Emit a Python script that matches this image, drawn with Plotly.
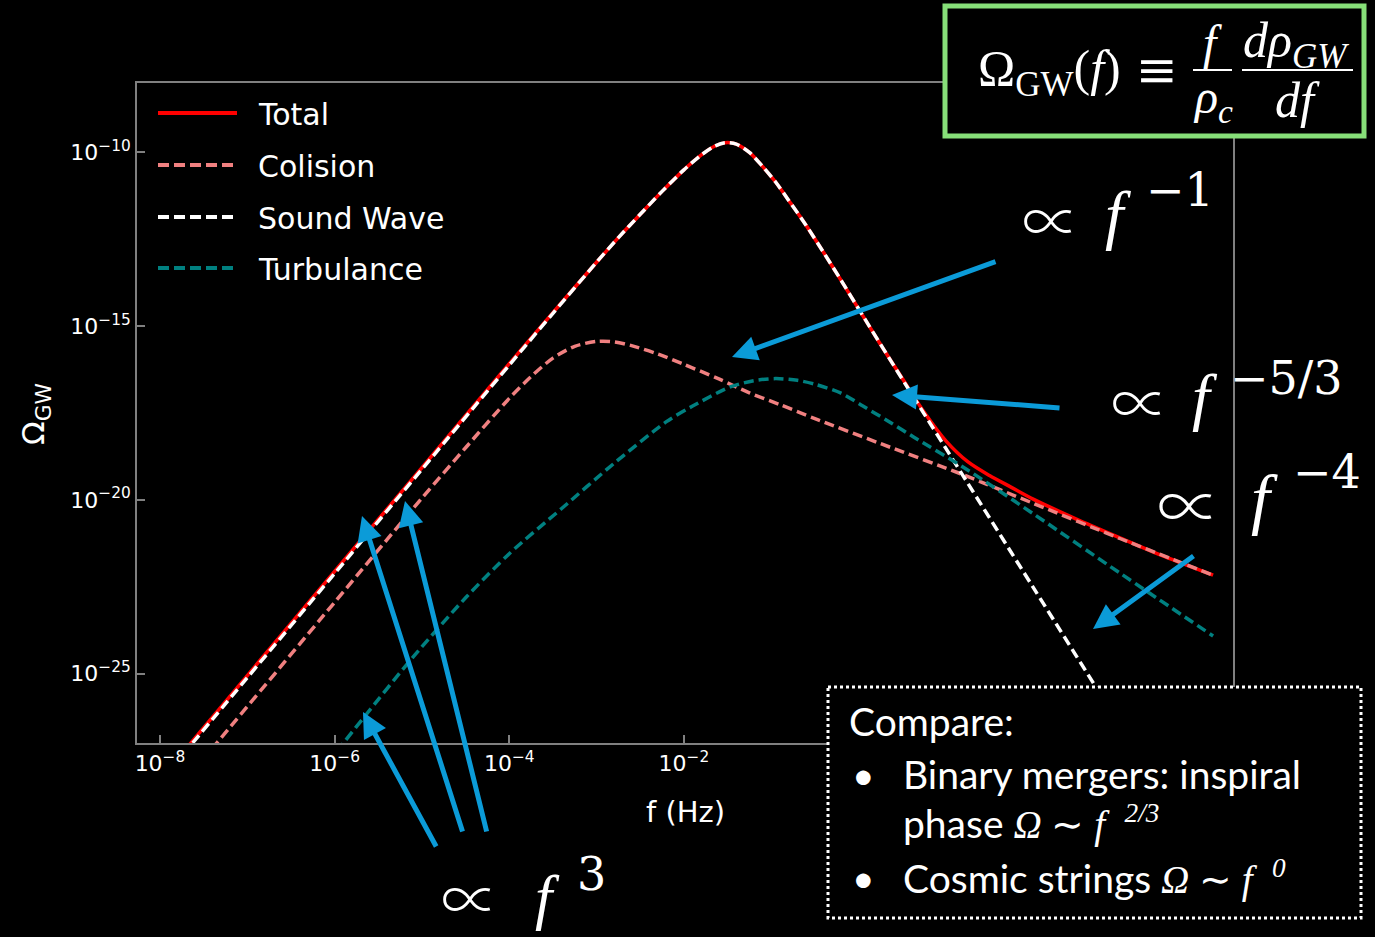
import numpy as np
import plotly.graph_objects as go

# ---- spectrum data: log10(f / Hz) and log10(Omega_GW) ----
sw_logf = [-8.4, -7.0, -6.0, -5.0, -4.0, -3.5, -3.0, -2.75, -2.5, -2.25, -2.0, -1.8, -1.65,
           -1.53, -1.4, -1.25, -1.1, -0.95, -0.8, -0.6, -0.4, -0.2, 0.0, 0.437, 1.0, 2.0,
           3.0, 3.6]
sw_logomega = [-29.32, -25.12, -22.12, -19.12, -16.12, -14.63, -13.16, -12.45, -11.78, -11.12,
               -10.50, -10.07, -9.82, -9.72, -9.76, -10.00, -10.40, -10.85, -11.38, -12.10,
               -12.88, -13.68, -14.50, -16.27, -18.52, -22.52, -26.52, -28.92]

col_logf = [-8.4, -7.35, -6.0, -5.0, -4.5, -4.0, -3.75, -3.5, -3.25, -3.0, -2.8, -2.6, -2.3,
            -2.0, -1.6, -1.25, -0.9, -0.5, 0.25, 1.2, 2.0, 3.0, 4.06]
col_logomega = [-30.15, -27.0, -22.95, -19.95, -18.50, -17.08, -16.45, -15.92, -15.58, -15.44,
                -15.45, -15.56, -15.80, -16.10, -16.52, -16.92, -17.26, -17.66, -18.38,
                -19.28, -20.10, -21.12, -22.17]

turb_logf = [-6.2, -5.9, -5.67, -5.1, -4.5, -4.0, -3.4, -2.8, -2.2, -1.9, -1.47, -1.2, -0.95,
             -0.7, -0.5, -0.2, 0.05, 0.35, 0.63, 1.2, 2.0, 3.0, 4.06]
turb_logomega = [-27.9, -27.0, -26.28, -24.52, -22.82, -21.55, -20.25, -18.95, -17.75, -17.30,
                 -16.75, -16.57, -16.51, -16.56, -16.67, -16.93, -17.30, -17.75, -18.19,
                 -19.06, -20.40, -22.12, -23.92]

total_logf = [-8.4, -7.0, -6.0, -5.0, -4.0, -3.5, -3.0, -2.75, -2.5, -2.25, -2.0, -1.8, -1.65,
              -1.53, -1.4, -1.25, -1.1, -0.95, -0.8, -0.6, -0.4, -0.2, 0.0, 0.25, 0.5, 0.75,
              1.0, 1.25, 1.5, 1.75, 2.0, 2.5, 3.0, 3.5, 4.06]
total_logomega = [-29.26, -25.06, -22.06, -19.07, -16.08, -14.61, -13.16, -12.45, -11.78,
                  -11.12, -10.50, -10.07, -9.82, -9.72, -9.76, -10.00, -10.40, -10.85, -11.38,
                  -12.10, -12.88, -13.68, -14.50, -15.52, -16.50, -17.47, -18.30, -18.90,
                  -19.30, -19.64, -19.98, -20.56, -21.10, -21.63, -22.17]

series_names = ["Total", "Colision", "Sound Wave", "Turbulance"]
series_colors = ["#ff0000", "#f08080", "#ffffff", "#008080"]

x_tick_exponents = [-8, -6, -4, -2]
y_tick_exponents = [-10, -15, -20, -25]

# ---- page geometry ----
W, H = 1375, 937
L, R, T, B = 137, 142, 83, 194
PW, PH = W - L - R, H - T - B


def px(xp):
    return (xp - L) / PW


def py(yp):
    return (H - B - yp) / PH


fig = go.Figure()

curves = [
    (total_logf, total_logomega, "solid", 3.5),
    (col_logf, col_logomega, "10px,5px", 3.5),
    (sw_logf, sw_logomega, "10px,5px", 3.5),
    (turb_logf, turb_logomega, "10px,5px", 3.5),
]
for (lf, lo, dash, w), name, color in zip(curves, series_names, series_colors):
    fig.add_trace(go.Scatter(
        x=10 ** np.array(lf), y=10 ** np.array(lo), mode="lines", name=name,
        line=dict(color=color, width=w, dash=dash, shape="spline", smoothing=0.8),
        showlegend=False, hoverinfo="skip"))

axis_common = dict(
    type="log", showgrid=False, zeroline=False, showline=True, linecolor="#808080",
    linewidth=1.5, mirror=True, ticks="inside", ticklen=8, tickwidth=1.5,
    tickcolor="#808080", tickfont=dict(family="DejaVu Sans", size=22, color="#ffffff"),
)

fig.update_layout(
    width=W, height=H, autosize=False,
    margin=dict(l=L, r=R, t=T, b=B, pad=0),
    paper_bgcolor="#000000", plot_bgcolor="#000000",
    xaxis=dict(axis_common, range=[-8.263, 4.288],
               tickvals=[10.0 ** e for e in x_tick_exponents],
               ticktext=["10<sup>\u2212%d</sup>" % -e for e in x_tick_exponents]),
    yaxis=dict(axis_common, range=[-27.0, -8.0],
               tickvals=[10.0 ** e for e in y_tick_exponents],
               ticktext=["10<sup>\u2212%d</sup>" % -e for e in y_tick_exponents]),
)

shapes = []
annotations = []

# axis titles
annotations.append(dict(text="f (Hz)", x=px(685), y=py(812), xanchor="center", yanchor="middle",
                        font=dict(family="DejaVu Sans", size=29, color="#ffffff")))
annotations.append(dict(text="\u03a9<sub>GW</sub>", x=px(36), y=py(414), xanchor="center",
                        yanchor="middle", textangle=-90,
                        font=dict(family="DejaVu Sans", size=31, color="#ffffff")))

# legend
legend_rows = [113, 165, 217, 268]
for name, color, row, dash in zip(series_names, series_colors, legend_rows,
                                  ["solid", "11px,5px", "11px,5px", "11px,5px"]):
    shapes.append(dict(type="line", xref="paper", yref="paper", x0=px(158), x1=px(237),
                       y0=py(row), y1=py(row), layer="above",
                       line=dict(color=color, width=4, dash=dash)))
    annotations.append(dict(text=name, x=px(256), y=py(row + 1), xanchor="left",
                            yanchor="middle",
                            font=dict(family="DejaVu Sans", size=30, color="#ffffff")))

# definition box
shapes.append(dict(type="rect", xref="paper", yref="paper", x0=px(945), x1=px(1364),
                   y0=py(6), y1=py(136), layer="above", fillcolor="#000000",
                   line=dict(color="#86df78", width=5)))
serif = "Liberation Serif"
annotations += [
    dict(text="\u03a9<sub>GW</sub>(<i>f</i>)", x=px(1049), y=py(72), xanchor="center",
         yanchor="middle", font=dict(family=serif, size=50, color="#ffffff")),
    dict(text="\u2261", x=px(1157), y=py(70), xanchor="center", yanchor="middle",
         font=dict(family="DejaVu Serif", size=50, color="#ffffff")),
    dict(text="<i>f</i>", x=px(1212), y=py(42), xanchor="center", yanchor="middle",
         font=dict(family=serif, size=48, color="#ffffff")),
    dict(text="<i>\u03c1<sub>c</sub></i>", x=px(1213), y=py(100), xanchor="center",
         yanchor="middle", font=dict(family=serif, size=48, color="#ffffff")),
    dict(text="<i>d\u03c1<sub>GW</sub></i>", x=px(1296), y=py(44), xanchor="center",
         yanchor="middle", font=dict(family=serif, size=50, color="#ffffff")),
    dict(text="<i>df</i>", x=px(1297), y=py(100), xanchor="center", yanchor="middle",
         font=dict(family=serif, size=50, color="#ffffff")),
]
for x0, x1 in [(1193, 1232), (1242, 1353)]:
    shapes.append(dict(type="line", xref="paper", yref="paper", x0=px(x0), x1=px(x1),
                       y0=py(70), y1=py(70), layer="above",
                       line=dict(color="#ffffff", width=2)))

# power-law labels: proportional sign, f and its exponent placed separately
prop_font = "Noto Sans CJK JP"
for (pcx, pcy, psz), (fcx, fcy, fsz), (ex, ey, etxt) in [
    ((470, 896, 58), (547, 897, 62), (575, 874, "3")),
    ((1051, 218, 58), (1118, 214, 66), (1144, 190, "\u22121")),
    ((1140, 400, 58), (1205, 396, 64), (1228, 378, "\u22125/3")),
    ((1189, 502, 64), (1264, 499, 68), (1291, 472, "\u22124")),
]:
    annotations.append(dict(text="\u221d", x=px(pcx), y=py(pcy), xanchor="center",
                            yanchor="middle",
                            font=dict(family=prop_font, size=psz, color="#ffffff",
                                      weight=300)))
    annotations.append(dict(text="<i>f</i>", x=px(fcx), y=py(fcy), xanchor="center",
                            yanchor="middle",
                            font=dict(family=serif, size=fsz, color="#ffffff")))
    annotations.append(dict(text=etxt, x=px(ex), y=py(ey), xanchor="left", yanchor="middle",
                            font=dict(family="DejaVu Serif", size=46, color="#ffffff")))

# arrows (head, tail) in page pixels
arrow_color = "#0b9bd8"
for (hx, hy), (tx, ty) in [
    ((363, 712), (437, 848)),
    ((362, 516), (463, 833)),
    ((405, 501), (487, 833)),
    ((732, 357), (997, 261)),
    ((892, 395), (1061, 408)),
    ((1093, 629), (1195, 555)),
]:
    annotations.append(dict(text="", x=px(hx), y=py(hy), ax=tx - hx, ay=ty - hy,
                            axref="pixel", ayref="pixel", showarrow=True, arrowhead=2,
                            arrowsize=1, arrowwidth=5, arrowcolor=arrow_color, standoff=0))

# comparison box
shapes.append(dict(type="rect", xref="paper", yref="paper", x0=px(828), x1=px(1361),
                   y0=py(687), y1=py(918), layer="above", fillcolor="#000000",
                   line=dict(color="#ffffff", width=3, dash="3px,3px")))
sans = "Lato"
m = '<span style="font-family:Liberation Serif">'
for txt, x, y in [
    ("Compare:", 847, 721),
    ("\u2022", 850, 774),
    ("Binary mergers: inspiral", 901, 774),
    ("phase " + m + "<i>\u03a9</i> \u223c <i>f</i>  <sup><i>2/3</i></sup></span>", 901, 823),
    ("\u2022", 850, 877),
    ("Cosmic strings " + m + "<i>\u03a9</i> \u223c <i>f</i>  <sup><i>0</i></sup></span>", 901, 877),
]:
    annotations.append(dict(text=txt, x=px(x), y=py(y), xanchor="left", yanchor="middle",
                            font=dict(family=sans, size=39, color="#ffffff")))

for a in annotations:
    a.setdefault("xref", "paper")
    a.setdefault("yref", "paper")
    a.setdefault("showarrow", False)

fig.update_layout(shapes=shapes, annotations=annotations)
fig.write_html("out.html")
